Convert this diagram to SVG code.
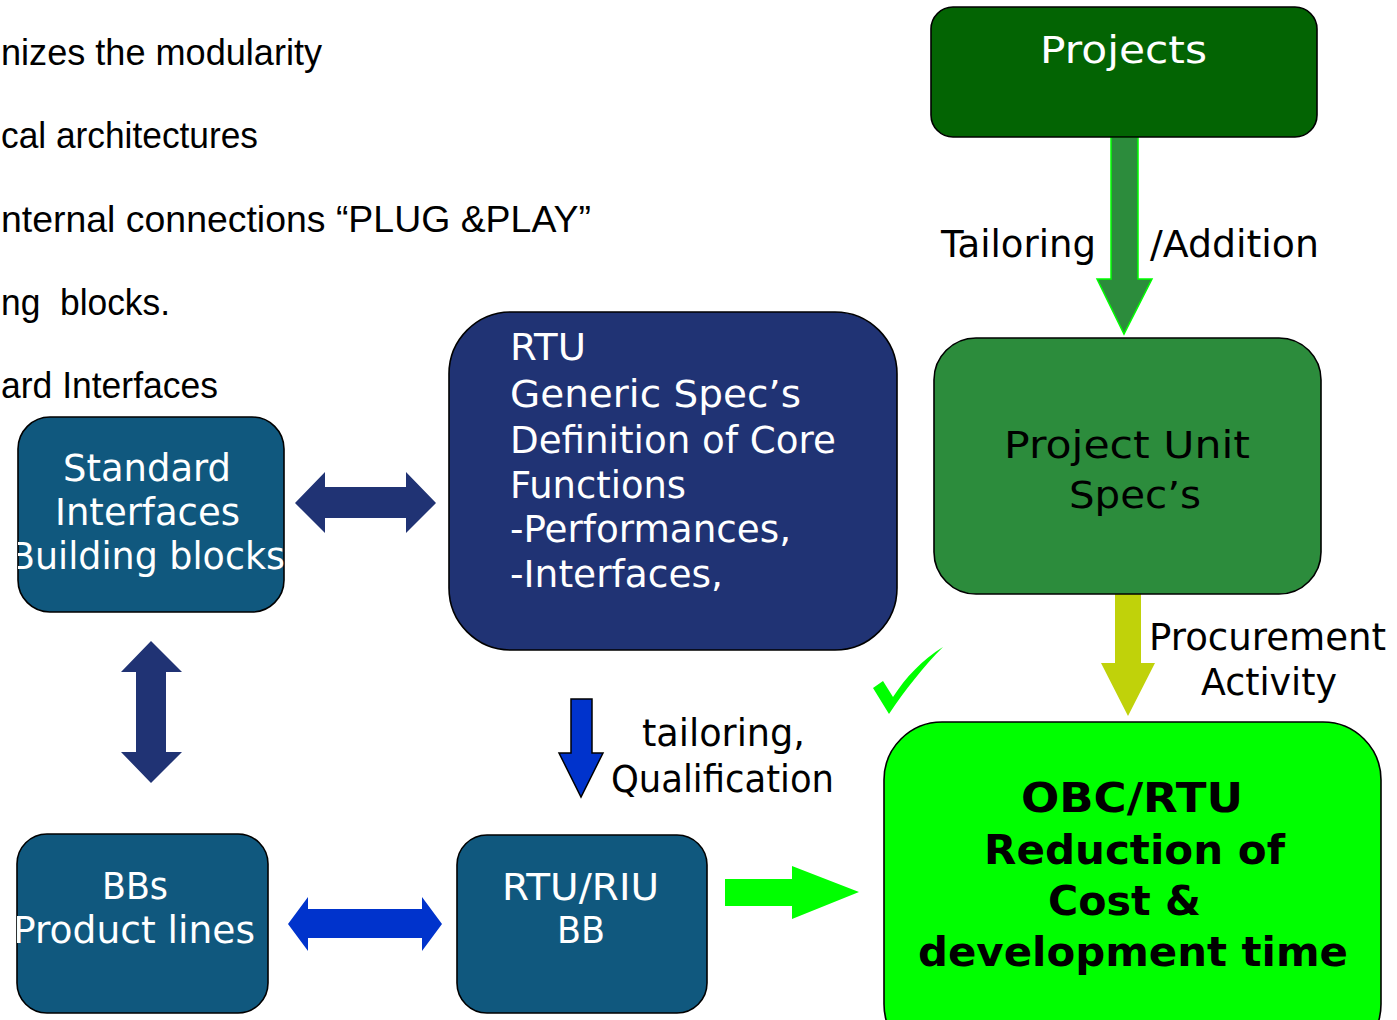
<svg xmlns="http://www.w3.org/2000/svg" width="1397" height="1020" viewBox="0 0 1397 1020">
<defs>
<style>
.box{stroke:#000;stroke-width:1.6}
.t{font-family:"DejaVu Sans",Verdana,sans-serif;font-size:37px}
.w{fill:#fff}
.k{fill:#000}
.b{font-weight:bold;font-size:40px}
.bullet{font-family:"Liberation Sans",Arial,sans-serif;font-size:36px;fill:#000;white-space:pre}
</style>
<clipPath id="clipStd"><rect x="18" y="417" width="266" height="195" rx="32"/></clipPath>
<clipPath id="clipBBs"><rect x="17" y="834" width="251" height="179" rx="30"/></clipPath>
</defs>
<rect width="1397" height="1020" fill="#fff"/>

<g id="bullets">
<text class="bullet" x="1" y="65" textLength="321" lengthAdjust="spacingAndGlyphs">nizes the modularity</text>
<text class="bullet" x="1" y="148" textLength="257" lengthAdjust="spacingAndGlyphs">cal architectures</text>
<text class="bullet" x="1" y="232" textLength="590" lengthAdjust="spacingAndGlyphs">nternal connections “PLUG &amp;PLAY”</text>
<text class="bullet" x="1" y="315" textLength="169" lengthAdjust="spacingAndGlyphs" xml:space="preserve">ng  blocks.</text>
<text class="bullet" x="1" y="398" textLength="217" lengthAdjust="spacingAndGlyphs">ard Interfaces</text>
</g>

<g id="connectors">
<polygon id="c-tailoring" points="1111,137 1138,137 1138,279 1152,279 1124,334 1097,279 1111,279" fill="#2c8c3c" stroke="#00ff00" stroke-width="1.5"/>
<polygon id="c-procurement" points="1115,594 1141,594 1141,663 1155,663 1128,716 1101,663 1115,663" fill="#c0d20a"/>
<polygon id="c-std-rtu" points="295,503 325,472 325,487 406,487 406,472 436,503 406,533 406,518 325,518 325,533" fill="#203374"/>
<polygon id="c-std-bbs" points="151,641 182,672 166,672 166,752 182,752 151,783 121,752 136,752 136,672 121,672" fill="#203374"/>
<polygon id="c-bbs-riu" points="288,924 308,897 308,909 422,909 422,897 442,924 422,951 422,938 308,938 308,951" fill="#0033cc"/>
<polygon id="c-rtu-riu" points="571,699 592,699 592,753 603,753 581,797 559,753 571,753" fill="#0033cc" stroke="#000" stroke-width="1.5"/>
<polygon id="c-riu-obc" points="725,879 792,879 792,866 859,892 792,919 792,906 725,906" fill="#00ff00"/>
<text class="t k" x="941" y="257" font-size="36" textLength="155" lengthAdjust="spacingAndGlyphs">Tailoring</text>
<text class="t k" x="1150" y="257" font-size="36" textLength="169" lengthAdjust="spacingAndGlyphs">/Addition</text>
<text class="t k" x="1149" y="650" textLength="237" lengthAdjust="spacingAndGlyphs">Procurement</text>
<text class="t k" x="1201" y="695" textLength="136" lengthAdjust="spacingAndGlyphs">Activity</text>
<text class="t k" x="642" y="746" textLength="163" lengthAdjust="spacingAndGlyphs">tailoring,</text>
<text class="t k" x="611" y="792" textLength="223" lengthAdjust="spacingAndGlyphs">Qualification</text>
<path id="checkmark" d="M873,688 L883,681 L893,697 C906,677 922,660 943,647 C924,666 905,690 889,714 Z" fill="#00ff00"/>
</g>

<g id="projects">
<rect class="box" x="931" y="7" width="386" height="130" rx="22" fill="#036403"/>
<text class="t w" x="1040" y="63" font-size="41" textLength="167" lengthAdjust="spacingAndGlyphs">Projects</text>
</g>

<g id="project-unit">
<rect class="box" x="934" y="338" width="387" height="256" rx="42" fill="#2c8c3c"/>
<text class="t k" x="1004" y="458" font-size="41" textLength="246" lengthAdjust="spacingAndGlyphs">Project Unit</text>
<text class="t k" x="1069" y="508" font-size="41" textLength="132" lengthAdjust="spacingAndGlyphs">Spec’s</text>
</g>

<g id="obc">
<rect class="box" x="884" y="722" width="497" height="340" rx="58" fill="#00ff00"/>
<text class="t k b" x="1021" y="812" textLength="222" lengthAdjust="spacingAndGlyphs">OBC/RTU</text>
<text class="t k b" x="984" y="864" textLength="301" lengthAdjust="spacingAndGlyphs">Reduction of</text>
<text class="t k b" x="1048" y="915" textLength="153" lengthAdjust="spacingAndGlyphs">Cost &amp;</text>
<text class="t k b" x="918" y="966" textLength="430" lengthAdjust="spacingAndGlyphs">development time</text>
</g>

<g id="rtu-generic">
<rect class="box" x="449" y="312" width="448" height="338" rx="62" fill="#203374"/>
<text class="t w" x="510" y="360" textLength="76" lengthAdjust="spacingAndGlyphs">RTU</text>
<text class="t w" x="510" y="407" textLength="291" lengthAdjust="spacingAndGlyphs">Generic Spec’s</text>
<text class="t w" x="510" y="453" textLength="326" lengthAdjust="spacingAndGlyphs">Definition of Core</text>
<text class="t w" x="510" y="498" textLength="176" lengthAdjust="spacingAndGlyphs">Functions</text>
<text class="t w" x="510" y="542" textLength="281" lengthAdjust="spacingAndGlyphs">-Performances,</text>
<text class="t w" x="510" y="587" textLength="213" lengthAdjust="spacingAndGlyphs">-Interfaces,</text>
</g>

<g id="standard-interfaces">
<rect class="box" x="18" y="417" width="266" height="195" rx="32" fill="#10587e"/>
<g clip-path="url(#clipStd)">
<text class="t w" x="63" y="481" textLength="168" lengthAdjust="spacingAndGlyphs">Standard</text>
<text class="t w" x="55" y="525" textLength="185" lengthAdjust="spacingAndGlyphs">Interfaces</text>
<text class="t w" x="10" y="569" textLength="275" lengthAdjust="spacingAndGlyphs">Building blocks</text>
</g>
</g>

<g id="bbs">
<rect class="box" x="17" y="834" width="251" height="179" rx="30" fill="#10587e"/>
<g clip-path="url(#clipBBs)">
<text class="t w" x="102" y="899" textLength="66" lengthAdjust="spacingAndGlyphs">BBs</text>
<text class="t w" x="13" y="943" textLength="242" lengthAdjust="spacingAndGlyphs">Product lines</text>
</g>
</g>

<g id="rtu-riu">
<rect class="box" x="457" y="835" width="250" height="178" rx="30" fill="#10587e"/>
<text class="t w" x="502" y="900" textLength="157" lengthAdjust="spacingAndGlyphs">RTU/RIU</text>
<text class="t w" x="557" y="943" textLength="48" lengthAdjust="spacingAndGlyphs">BB</text>
</g>
</svg>
